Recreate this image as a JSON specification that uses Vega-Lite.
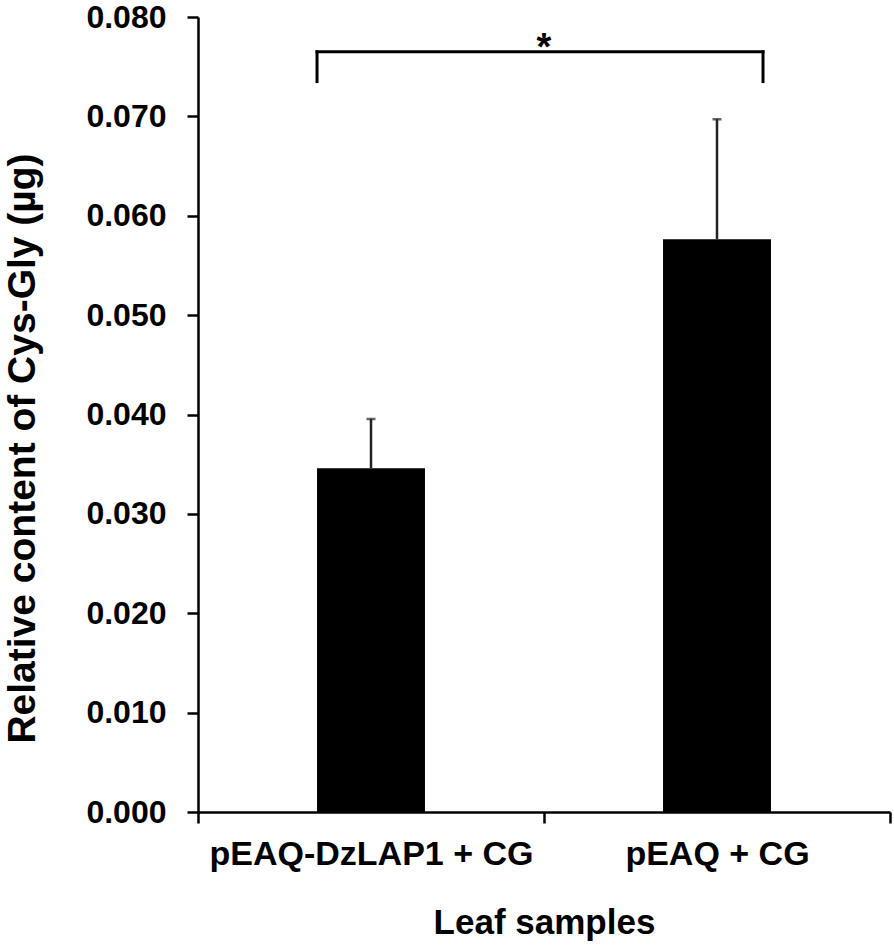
{
  "$schema": "https://vega.github.io/schema/vega-lite/v6.json",
  "width": 692,
  "height": 795,
  "autosize": "none",
  "padding": {"left": 198, "top": 17, "right": 4, "bottom": 135},
  "background": "white",
  "config": {"view": {"stroke": null}, "font": "Liberation Sans"},
  "layer": [
    {
      "data": {"values": [
        {"sample": "pEAQ-DzLAP1 + CG", "mean": 0.0346, "upper": 0.03955},
        {"sample": "pEAQ + CG", "mean": 0.05763, "upper": 0.06971}
      ]},
      "layer": [
        {
          "mark": {"type": "bar", "color": "black", "width": {"band": 0.312}},
          "encoding": {
            "x": {
              "field": "sample", "type": "nominal", "sort": null,
              "scale": {"paddingInner": 0, "paddingOuter": 0},
              "axis": {
                "title": "Leaf samples", "labelAngle": 0, "tickBand": "extent", "labelLimit": 0,
                "labelFont": "Liberation Sans", "labelFontSize": 34, "labelFontWeight": "bold", "labelColor": "black",
                "titleFont": "Liberation Sans", "titleFontSize": 35, "titleFontWeight": "bold", "titleColor": "black",
                "domainColor": "black", "domainWidth": 2.5, "tickColor": "black", "tickWidth": 2.5, "tickSize": 11,
                "labelPadding": 14, "titlePadding": 34
              }
            },
            "y": {
              "field": "mean", "type": "quantitative",
              "scale": {"domain": [0, 0.08], "nice": false},
              "axis": {
                "title": "Relative content of Cys-Gly (µg)", "format": ".3f",
                "values": [0, 0.01, 0.02, 0.03, 0.04, 0.05, 0.06, 0.07, 0.08], "grid": false,
                "labelFont": "Liberation Sans", "labelFontSize": 32, "labelFontWeight": "bold", "labelColor": "black",
                "titleFont": "Liberation Sans", "titleFontSize": 39, "titleFontWeight": "bold", "titleColor": "black",
                "titleX": -164, "titleY": 431, "titleBaseline": "alphabetic", "titleAlign": "center", "titleAngle": -90,
                "domainColor": "black", "domainWidth": 2.5, "tickColor": "black", "tickWidth": 2.5, "tickSize": 11,
                "labelPadding": 21
              }
            }
          }
        },
        {
          "mark": {"type": "rule", "color": "#222222", "strokeWidth": 2.5},
          "encoding": {
            "x": {"field": "sample", "type": "nominal", "sort": null},
            "y": {"field": "mean", "type": "quantitative"},
            "y2": {"field": "upper"}
          }
        },
        {
          "mark": {"type": "tick", "color": "#222222", "thickness": 2.5, "size": 9},
          "encoding": {
            "x": {"field": "sample", "type": "nominal", "sort": null},
            "y": {"field": "upper", "type": "quantitative"}
          }
        }
      ]
    },
    {
      "data": {"values": [
        {"bx": 0.344, "bx2": 1.633, "by": 0.0765, "by2": 0.0765},
        {"bx": 0.344, "bx2": 0.344, "by": 0.0735, "by2": 0.0765},
        {"bx": 1.633, "bx2": 1.633, "by": 0.0735, "by2": 0.0765}
      ]},
      "mark": {"type": "rule", "color": "black", "strokeWidth": 3, "strokeCap": "square"},
      "encoding": {
        "x": {"field": "bx", "type": "quantitative", "scale": {"domain": [0, 2], "nice": false}, "axis": null},
        "x2": {"field": "bx2"},
        "y": {"field": "by", "type": "quantitative"},
        "y2": {"field": "by2"}
      }
    },
    {
      "data": {"values": [{"sx": 1.0, "sy": 0.0757, "label": "*"}]},
      "mark": {"type": "text", "font": "Liberation Sans", "fontSize": 38, "fontWeight": "bold", "color": "black", "baseline": "alphabetic", "align": "center"},
      "encoding": {
        "x": {"field": "sx", "type": "quantitative", "scale": {"domain": [0, 2], "nice": false}, "axis": null},
        "y": {"field": "sy", "type": "quantitative"},
        "text": {"field": "label"}
      }
    }
  ],
  "resolve": {"scale": {"x": "independent"}}
}
